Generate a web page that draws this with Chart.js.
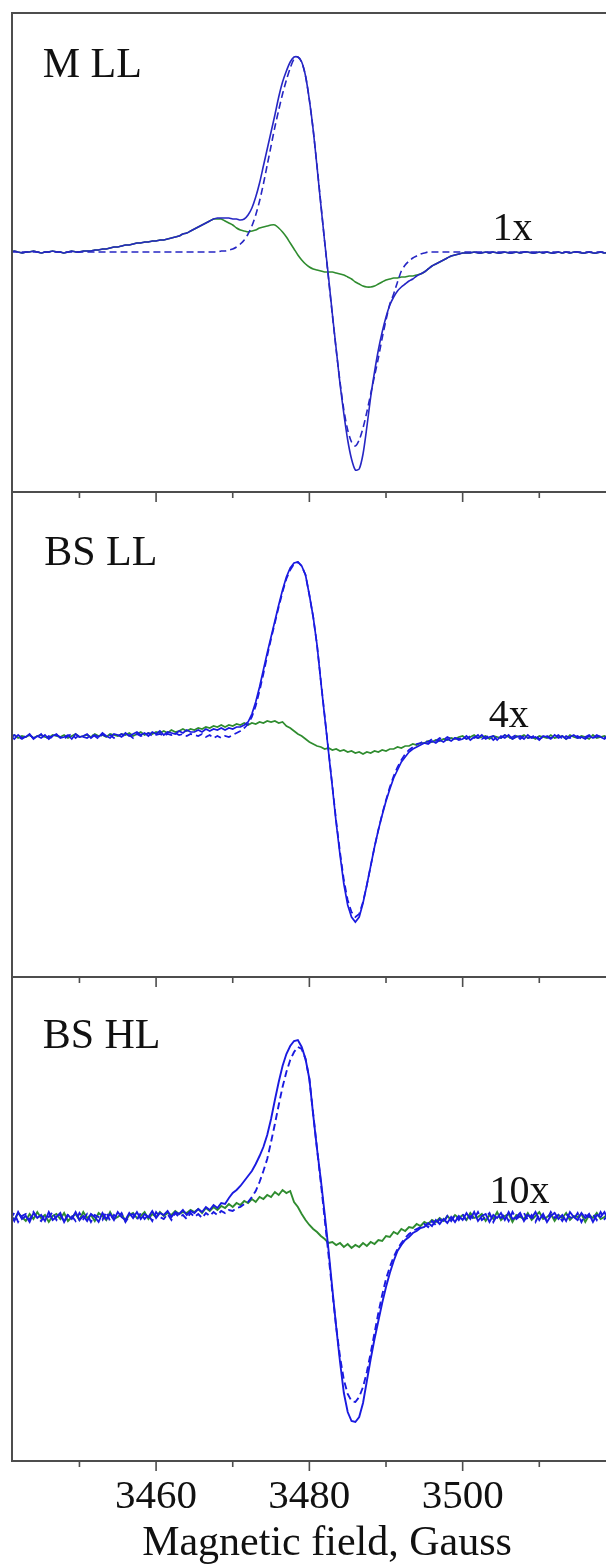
<!DOCTYPE html>
<html>
<head>
<meta charset="utf-8">
<script src="https://cdn.jsdelivr.net/npm/chart.js@4.4.1/dist/chart.umd.min.js"></script>
<style>
  html, body { margin:0; padding:0; background:#fff; overflow:hidden; }
  #figura { position:relative; width:606px; height:1564px; overflow:hidden; background:#fff; }
  .panel { position:absolute; left:0; }
</style>
</head>
<body>
<div id="figura">
  <div class="panel" style="top:0px"><canvas id="panel1" width="644" height="505"></canvas></div>
  <div class="panel" style="top:480px"><canvas id="panel2" width="644" height="510"></canvas></div>
  <div class="panel" style="top:965px"><canvas id="panel3" width="644" height="604"></canvas></div>
</div>
<script>
// campo magnetico (Gauss), paso 0.5
const campo = [
  3441,3441.5,3442,3442.5,3443,3443.5,3444,3444.5,3445,3445.5,
  3446,3446.5,3447,3447.5,3448,3448.5,3449,3449.5,3450,3450.5,
  3451,3451.5,3452,3452.5,3453,3453.5,3454,3454.5,3455,3455.5,
  3456,3456.5,3457,3457.5,3458,3458.5,3459,3459.5,3460,3460.5,
  3461,3461.5,3462,3462.5,3463,3463.5,3464,3464.5,3465,3465.5,
  3466,3466.5,3467,3467.5,3468,3468.5,3469,3469.5,3470,3470.5,
  3471,3471.5,3472,3472.5,3473,3473.5,3474,3474.5,3475,3475.5,
  3476,3476.5,3477,3477.5,3478,3478.5,3479,3479.5,3480,3480.5,
  3481,3481.5,3482,3482.5,3483,3483.5,3484,3484.5,3485,3485.5,
  3486,3486.5,3487,3487.5,3488,3488.5,3489,3489.5,3490,3490.5,
  3491,3491.5,3492,3492.5,3493,3493.5,3494,3494.5,3495,3495.5,
  3496,3496.5,3497,3497.5,3498,3498.5,3499,3499.5,3500,3500.5,
  3501,3501.5,3502,3502.5,3503,3503.5,3504,3504.5,3505,3505.5,
  3506,3506.5,3507,3507.5,3508,3508.5,3509,3509.5,3510,3510.5,
  3511,3511.5,3512,3512.5,3513,3513.5,3514,3514.5,3515,3515.5,
  3516,3516.5,3517,3517.5,3518,3518.5,3519,3519.5,3520,3520.5,
  3521,3521.5,3522,3522.5,3523
];
const etiquetasCampo = [3460, 3480, 3500];

// M LL : experimental, simulado, diferencia
const p1Exp = [
  0.00,0.01,0.00,-0.01,0.00,0.00,0.01,0.00,-0.01,0.00,
  0.00,0.01,0.00,0.00,-0.01,0.00,0.01,0.00,0.00,0.01,
  0.01,0.01,0.02,0.02,0.03,0.03,0.04,0.05,0.05,0.06,
  0.07,0.07,0.08,0.09,0.09,0.10,0.10,0.11,0.11,0.12,
  0.12,0.13,0.14,0.15,0.16,0.18,0.19,0.21,0.23,0.25,
  0.27,0.29,0.31,0.33,0.34,0.34,0.34,0.34,0.33,0.33,
  0.32,0.33,0.37,0.44,0.55,0.69,0.86,1.03,1.20,1.37,
  1.55,1.70,1.81,1.90,1.95,1.95,1.90,1.76,1.52,1.22,
  0.85,0.47,0.10,-0.25,-0.62,-0.97,-1.32,-1.62,-1.88,-2.07,
  -2.18,-2.17,-2.02,-1.75,-1.45,-1.20,-0.98,-0.80,-0.65,-0.53,
  -0.45,-0.39,-0.35,-0.32,-0.29,-0.27,-0.24,-0.22,-0.20,-0.17,
  -0.14,-0.12,-0.10,-0.08,-0.06,-0.04,-0.03,-0.02,-0.01,-0.01,
  -0.01,0.00,-0.01,-0.01,0.00,-0.01,0.00,-0.01,-0.01,0.00,
  -0.01,-0.01,0.00,-0.01,0.00,0.00,-0.01,-0.01,0.00,-0.01,
  0.00,-0.01,-0.01,0.00,-0.01,0.00,-0.01,0.00,0.00,-0.01,
  -0.01,0.00,-0.01,-0.01,0.00,-0.01,0.00,0.00,-0.01,0.00,
  -0.01,0.00,-0.01,0.00,-0.01
];
const p1Sim = [
  0,0,0,0,0,0,0,0,0,0,
  0,0,0,0,0,0,0,0,0,0,
  0,0,0,0,0,0,0,0,0,0,
  0,0,0,0,0,0,0,0,0,0,
  0,0,0,0,0,0,0,0,0,0,
  0.00,0.00,0.00,0.00,0.00,0.01,0.01,0.02,0.03,0.05,
  0.08,0.12,0.18,0.26,0.37,0.51,0.68,0.87,1.06,1.25,
  1.42,1.58,1.72,1.84,1.93,1.95,1.90,1.76,1.52,1.22,
  0.86,0.48,0.10,-0.27,-0.63,-0.98,-1.30,-1.58,-1.78,-1.90,
  -1.94,-1.88,-1.76,-1.60,-1.42,-1.24,-1.06,-0.86,-0.68,-0.52,
  -0.42,-0.30,-0.19,-0.13,-0.09,-0.06,-0.04,-0.02,-0.01,0.00,
  0,0,0,0,0,0,0,0,0,0,
  0,0,0,0,0,0,0,0,0,0,
  0,0,0,0,0,0,0,0,0,0,
  0,0,0,0,0,0,0,0,0,0,
  0,0,0,0,0,0,0,0,0,0,
  0,0,0,0,0
];
const p1Dif = [
  0.00,0.01,0.00,-0.01,0.00,0.00,0.01,0.00,-0.01,0.00,
  0.00,0.01,0.00,0.00,-0.01,0.00,0.01,0.00,0.00,0.01,
  0.01,0.01,0.02,0.02,0.03,0.03,0.04,0.05,0.05,0.06,
  0.07,0.07,0.08,0.09,0.09,0.10,0.10,0.11,0.11,0.12,
  0.12,0.13,0.14,0.15,0.16,0.18,0.19,0.21,0.23,0.25,
  0.27,0.29,0.31,0.33,0.33,0.33,0.31,0.29,0.27,0.24,
  0.22,0.21,0.20,0.21,0.22,0.24,0.25,0.26,0.27,0.27,
  0.24,0.20,0.15,0.09,0.03,-0.03,-0.08,-0.12,-0.15,-0.17,
  -0.18,-0.19,-0.20,-0.20,-0.20,-0.21,-0.22,-0.23,-0.25,-0.27,
  -0.30,-0.32,-0.34,-0.35,-0.35,-0.34,-0.32,-0.30,-0.28,-0.27,
  -0.26,-0.26,-0.25,-0.25,-0.24,-0.24,-0.23,-0.22,-0.20,-0.17,
  -0.14,-0.12,-0.10,-0.08,-0.06,-0.04,-0.03,-0.02,-0.01,-0.01,
  -0.01,0.00,-0.01,-0.01,0.00,-0.01,0.00,-0.01,-0.01,0.00,
  -0.01,-0.01,0.00,-0.01,0.00,0.00,-0.01,-0.01,0.00,-0.01,
  0.00,-0.01,-0.01,0.00,-0.01,0.00,-0.01,0.00,0.00,-0.01,
  -0.01,0.00,-0.01,-0.01,0.00,-0.01,0.00,0.00,-0.01,0.00,
  -0.01,0.00,-0.01,0.00,-0.01
];

// BS LL
const p2Exp = [
  0.01,-0.02,0.02,-0.01,0.00,0.03,-0.02,0.01,-0.01,0.02,
  -0.02,0.01,0.03,-0.01,0.00,0.02,-0.02,0.03,0.00,0.01,
  0.03,-0.01,0.02,0.00,0.04,0.01,-0.01,0.03,0.02,0.00,
  0.04,0.01,0.03,0.05,0.02,0.04,0.01,0.05,0.03,0.06,
  0.02,0.05,0.04,0.03,0.06,0.04,0.07,0.05,0.05,0.07,
  0.05,0.08,0.06,0.08,0.07,0.09,0.07,0.09,0.08,0.10,
  0.10,0.12,0.15,0.23,0.35,0.50,0.67,0.84,1.00,1.16,
  1.32,1.47,1.60,1.69,1.74,1.75,1.71,1.62,1.42,1.20,
  0.92,0.55,0.20,-0.15,-0.50,-0.86,-1.18,-1.47,-1.68,-1.80,
  -1.85,-1.80,-1.66,-1.48,-1.29,-1.10,-0.93,-0.78,-0.64,-0.52,
  -0.41,-0.33,-0.25,-0.20,-0.15,-0.12,-0.10,-0.08,-0.06,-0.07,
  -0.04,-0.06,-0.03,-0.05,-0.02,-0.04,-0.01,-0.03,-0.02,0.01,
  -0.03,0.00,-0.01,0.02,-0.02,0.00,0.01,-0.03,0.01,-0.01,
  0.02,-0.02,0.00,0.01,-0.02,0.02,-0.01,0.00,-0.03,0.01,
  0.00,-0.02,0.02,-0.01,0.01,-0.02,0.00,0.02,-0.01,0.00,
  -0.02,0.01,-0.01,0.02,0.00,-0.02,0.01,-0.01,0.02,-0.01,
  0.00,0.01,-0.02,0.01,0.00
];
const p2Sim = [
  -0.01,0.02,0.00,-0.02,0.01,0.02,-0.01,0.00,0.03,-0.02,
  0.01,-0.01,0.02,0.00,-0.02,0.01,0.03,-0.01,0.02,0.00,
  -0.01,0.02,0.01,-0.02,0.03,0.00,0.02,-0.01,0.01,0.03,
  0.00,0.02,-0.01,0.03,0.01,0.02,0.04,0.01,0.02,0.03,
  0.01,0.03,0.02,0.04,0.02,0.03,0.01,0.03,0.02,0.01,
  0.03,0.00,0.02,-0.01,0.01,-0.01,0.01,0.00,0.02,0.04,
  0.06,0.09,0.13,0.20,0.31,0.46,0.63,0.81,0.98,1.14,
  1.30,1.45,1.58,1.67,1.73,1.75,1.71,1.62,1.42,1.20,
  0.92,0.56,0.21,-0.14,-0.49,-0.84,-1.15,-1.43,-1.63,-1.75,
  -1.80,-1.77,-1.65,-1.48,-1.29,-1.10,-0.93,-0.77,-0.63,-0.50,
  -0.39,-0.30,-0.23,-0.17,-0.13,-0.10,-0.07,-0.06,-0.04,-0.05,
  -0.02,-0.04,-0.01,-0.03,0.00,-0.02,-0.01,-0.02,0.00,-0.02,
  0.01,-0.01,0.02,-0.02,0.00,0.01,-0.03,0.00,-0.01,0.02,
  -0.01,0.00,0.02,-0.02,0.01,-0.01,0.00,0.02,-0.02,0.00,
  0.01,-0.01,0.00,0.02,-0.02,0.01,-0.01,0.00,0.01,-0.02,
  0.00,0.02,-0.01,0.00,0.01,-0.01,0.02,-0.02,0.00,0.01,
  -0.01,0.02,0.00,-0.02,0.01
];
const p2Dif = [
  0.00,0.02,-0.01,0.01,0.00,0.02,-0.01,0.01,0.02,0.00,
  -0.01,0.02,0.01,0.00,0.02,-0.01,0.01,0.03,0.00,0.01,
  0.02,0.00,0.03,0.01,0.02,0.00,0.03,0.02,0.01,0.03,
  0.02,0.04,0.01,0.03,0.05,0.02,0.04,0.03,0.05,0.04,
  0.06,0.04,0.07,0.05,0.06,0.08,0.06,0.08,0.07,0.09,
  0.08,0.10,0.09,0.11,0.10,0.12,0.10,0.12,0.11,0.13,
  0.12,0.14,0.12,0.14,0.13,0.15,0.14,0.16,0.15,0.16,
  0.14,0.15,0.11,0.09,0.06,0.03,0.01,-0.02,-0.05,-0.07,
  -0.09,-0.10,-0.12,-0.11,-0.13,-0.12,-0.14,-0.13,-0.15,-0.14,
  -0.16,-0.15,-0.17,-0.15,-0.16,-0.14,-0.15,-0.13,-0.14,-0.12,
  -0.12,-0.10,-0.11,-0.09,-0.09,-0.07,-0.08,-0.06,-0.06,-0.04,
  -0.05,-0.03,-0.04,-0.02,-0.03,-0.01,-0.02,0.00,0.01,-0.02,
  0.00,0.02,-0.01,0.00,0.01,-0.02,0.01,0.00,-0.01,0.02,
  0.00,-0.02,0.01,0.00,0.02,-0.01,0.00,-0.02,0.01,0.00,
  -0.01,0.02,-0.01,0.00,0.01,-0.02,0.02,0.00,-0.01,0.01,
  0.00,-0.02,0.02,-0.01,0.00,0.01,-0.01,0.02,0.00,-0.01,
  0.01,-0.02,0.00,0.01,-0.01
];

// BS HL
const p3Exp = [
  0.03,-0.04,0.05,-0.02,0.01,-0.05,0.04,-0.01,0.02,-0.04,
  0.05,-0.03,0.00,0.04,-0.05,0.02,-0.02,0.05,-0.03,0.01,
  -0.04,0.03,0.00,-0.05,0.04,-0.02,0.03,-0.03,0.05,0.00,
  -0.03,0.04,-0.01,0.05,-0.02,0.03,0.00,0.06,-0.01,0.04,
  0.02,0.06,0.00,0.05,0.03,0.07,0.02,0.06,0.04,0.08,
  0.05,0.10,0.07,0.12,0.09,0.14,0.13,0.19,0.24,0.27,
  0.31,0.36,0.41,0.46,0.53,0.61,0.70,0.82,0.98,1.17,
  1.35,1.51,1.63,1.71,1.76,1.77,1.70,1.58,1.38,1.02,
  0.68,0.37,0.03,-0.33,-0.72,-1.10,-1.45,-1.76,-1.95,-2.04,
  -2.05,-2.00,-1.86,-1.64,-1.42,-1.22,-1.04,-0.86,-0.70,-0.56,
  -0.44,-0.34,-0.28,-0.23,-0.20,-0.16,-0.14,-0.11,-0.10,-0.06,
  -0.09,-0.03,-0.07,-0.02,-0.06,0.00,-0.05,0.01,-0.03,0.04,
  -0.02,0.05,-0.04,0.01,0.03,-0.05,0.02,-0.01,0.04,-0.03,
  0.05,-0.02,0.00,0.04,-0.04,0.02,-0.01,0.05,-0.03,0.03,
  -0.05,0.01,0.04,-0.02,0.02,-0.04,0.05,0.00,-0.03,0.04,
  -0.01,0.03,-0.05,0.02,0.00,0.05,-0.03,0.01,-0.02,0.04,
  -0.04,0.03,0.00,-0.03,0.02
];
const p3Sim = [
  -0.02,0.04,-0.05,0.01,0.03,-0.03,0.05,-0.01,-0.04,0.02,
  0.00,0.05,-0.03,0.02,-0.05,0.03,0.01,-0.04,0.04,-0.02,
  0.03,-0.05,0.02,0.00,-0.03,0.05,-0.04,0.02,-0.01,0.04,
  -0.05,0.01,0.03,-0.03,0.04,-0.02,0.02,-0.04,0.05,0.00,
  -0.02,0.03,-0.03,0.04,0.00,0.02,-0.02,0.04,0.00,0.03,
  -0.01,0.04,0.01,0.05,0.02,0.06,0.04,0.07,0.06,0.09,
  0.10,0.13,0.15,0.20,0.26,0.35,0.46,0.58,0.75,0.93,
  1.12,1.30,1.45,1.57,1.65,1.70,1.68,1.58,1.38,1.03,
  0.68,0.34,-0.02,-0.38,-0.75,-1.10,-1.40,-1.63,-1.77,-1.84,
  -1.85,-1.80,-1.70,-1.55,-1.36,-1.16,-0.96,-0.78,-0.62,-0.50,
  -0.40,-0.32,-0.26,-0.21,-0.17,-0.14,-0.12,-0.10,-0.07,-0.10,
  -0.04,-0.08,-0.02,-0.06,0.01,-0.04,0.02,-0.03,0.03,-0.04,
  0.01,-0.02,0.05,-0.03,0.00,0.04,-0.05,0.02,-0.01,0.03,
  -0.04,0.05,-0.02,0.01,0.04,-0.03,0.02,-0.05,0.03,0.00,
  -0.03,0.05,-0.01,0.02,-0.04,0.03,0.00,-0.02,0.04,-0.05,
  0.02,0.00,0.03,-0.03,0.05,-0.02,0.01,-0.04,0.03,-0.01,
  0.04,-0.03,0.02,0.00,-0.02
];
const p3Dif = [
  0.02,-0.03,0.04,0.00,-0.04,0.03,-0.02,0.05,-0.01,0.02,
  -0.05,0.01,0.03,-0.02,0.04,-0.04,0.00,0.03,-0.03,0.05,
  -0.01,0.02,-0.04,0.04,0.01,-0.03,0.05,-0.02,0.00,0.03,
  -0.04,0.02,0.04,-0.01,0.01,0.05,-0.02,0.03,0.00,0.05,
  0.01,0.04,0.02,0.06,0.03,0.05,0.04,0.07,0.05,0.08,
  0.04,0.09,0.06,0.10,0.07,0.11,0.09,0.13,0.10,0.14,
  0.12,0.16,0.14,0.18,0.15,0.20,0.18,0.22,0.20,0.25,
  0.22,0.27,0.24,0.26,0.15,0.10,0.03,-0.03,-0.08,-0.12,
  -0.15,-0.19,-0.22,-0.26,-0.25,-0.28,-0.26,-0.30,-0.27,-0.31,
  -0.28,-0.30,-0.26,-0.29,-0.25,-0.27,-0.23,-0.24,-0.19,-0.20,
  -0.15,-0.17,-0.12,-0.14,-0.10,-0.11,-0.07,-0.09,-0.05,-0.07,
  -0.03,-0.05,-0.01,-0.04,0.01,-0.03,0.02,-0.01,0.02,-0.03,
  0.04,-0.01,0.00,0.03,-0.04,0.02,-0.02,0.05,-0.03,0.01,
  0.03,-0.05,0.02,0.00,-0.02,0.04,-0.03,0.01,0.05,-0.02,
  0.00,0.03,-0.04,0.02,-0.01,0.04,-0.03,0.01,0.00,0.03,
  -0.05,0.02,-0.01,0.04,-0.02,0.00,0.03,-0.04,0.01,0.02,
  -0.03,0.05,-0.01,0.00,0.02
];

// limites del eje vertical por panel [min, max]
const limitesY = [[-2.40, 2.39], [-2.40, 2.45], [-2.44, 2.40]];
const rangoCampo = [3441.2, 3523.4];
const etiquetasPanel = ['M LL', 'BS LL', 'BS HL'];
const factores = ['1x', '4x', '10x'];

const fuenteSerif = '"Liberation Serif", "Times New Roman", serif';
const azul = '#2626c4';
const azulRuido = '#1a1ae0';
const verde = '#2f8c2f';

const marcoPanel = {
  id: 'marcoPanel',
  afterDatasetsDraw(chart, args, opts) {
    const {ctx, chartArea: a} = chart;
    const x = chart.scales.x, y = chart.scales.y;
    ctx.save();
    ctx.strokeStyle = '#4d4d4d';
    ctx.lineWidth = 2;
    ctx.beginPath();
    ctx.moveTo(a.left, a.top); ctx.lineTo(a.right, a.top);
    ctx.moveTo(a.left, a.bottom); ctx.lineTo(a.right, a.bottom);
    ctx.moveTo(a.left, a.top - 1); ctx.lineTo(a.left, a.bottom + 1);
    ctx.stroke();
    // marcas del eje, todas hacia abajo
    ctx.lineWidth = 1.6;
    ctx.beginPath();
    x.ticks.forEach(t => {
      const v = Math.round(t.value);
      if (Math.abs(t.value - v) > 1e-6 || v % 10 !== 0) return;
      const px = x.getPixelForValue(v);
      const largo = v % 20 === 0 ? 10 : 6;
      if (opts.marcasArriba) { ctx.moveTo(px, a.top); ctx.lineTo(px, a.top + largo); }
      if (opts.marcasAbajo) { ctx.moveTo(px, a.bottom); ctx.lineTo(px, a.bottom + largo); }
    });
    ctx.stroke();
    ctx.fillStyle = '#111';
    ctx.textBaseline = 'alphabetic';
    (opts.textos || []).forEach(tx => {
      ctx.font = tx.tam + 'px ' + fuenteSerif;
      ctx.fillText(tx.texto, x.getPixelForValue(tx.x), y.getPixelForValue(tx.y));
    });
    ctx.restore();
  }
};

function hagoPanel(idCanvas, n, series, colorAzul, grosor, conEje, padding, textos, marcas) {
  const puntos = s => campo.map((c, i) => ({x: c, y: s[i]}));
  const tension = n === 0 ? 0.25 : 0;
  const config = {
    type: 'line',
    data: {
      datasets: [
        {label: 'experimental', data: puntos(series[0]), borderColor: colorAzul, borderWidth: grosor, pointRadius: 0, tension: tension},
        {label: 'simulado', data: puntos(series[1]), borderColor: colorAzul, borderWidth: grosor, borderDash: [7, 4], pointRadius: 0, tension: tension},
        {label: 'diferencia', data: puntos(series[2]), borderColor: verde, borderWidth: grosor, pointRadius: 0, tension: tension}
      ]
    },
    options: {
      responsive: false,
      animation: false,
      devicePixelRatio: 1,
      layout: {padding: padding},
      plugins: {
        legend: {display: false},
        tooltip: {enabled: false},
        marcoPanel: {marcasArriba: marcas[0], marcasAbajo: marcas[1], textos: textos}
      },
      scales: {
        x: {
          type: 'linear',
          min: rangoCampo[0],
          max: rangoCampo[1],
          grid: {display: false, drawTicks: false},
          border: {display: false},
          afterFit: escala => { if (conEje) escala.height = 108; },
          ticks: {
            display: conEje,
            stepSize: 10,
            includeBounds: false,
            autoSkip: false,
            maxRotation: 0,
            padding: 12,
            color: '#111',
            font: {family: fuenteSerif, size: 41},
            callback: v => (etiquetasCampo.includes(Math.round(v)) ? String(Math.round(v)) : '')
          },
          title: {
            display: conEje,
            text: 'Magnetic field, Gauss',
            color: '#111',
            font: {family: fuenteSerif, size: 42},
            padding: {top: 0, bottom: 0}
          }
        },
        y: {display: false, min: limitesY[n][0], max: limitesY[n][1]}
      }
    },
    plugins: [marcoPanel]
  };
  return new Chart(document.getElementById(idCanvas).getContext('2d'), config);
}

hagoPanel('panel1', 0, [p1Exp, p1Sim, p1Dif], azul, 1.6, false,
  {top: 13, bottom: 13, left: 12, right: 2},
  [{texto: etiquetasPanel[0], x: 3445.2, y: 1.75, tam: 42}, {texto: factores[0], x: 3503.9, y: 0.12, tam: 40}],
  [false, false]);
hagoPanel('panel2', 1, [p2Exp, p2Sim, p2Dif], azulRuido, 1.7, false,
  {top: 12, bottom: 13, left: 12, right: 2},
  [{texto: etiquetasPanel[1], x: 3445.4, y: 1.72, tam: 42}, {texto: factores[1], x: 3503.4, y: 0.10, tam: 40}],
  [true, false]);
hagoPanel('panel3', 2, [p3Exp, p3Sim, p3Dif], azulRuido, 1.9, true,
  {top: 12, bottom: 0, left: 12, right: 2},
  [{texto: etiquetasPanel[2], x: 3445.2, y: 1.69, tam: 42}, {texto: factores[2], x: 3503.5, y: 0.14, tam: 40}],
  [true, true]);
</script>
</body>
</html>
